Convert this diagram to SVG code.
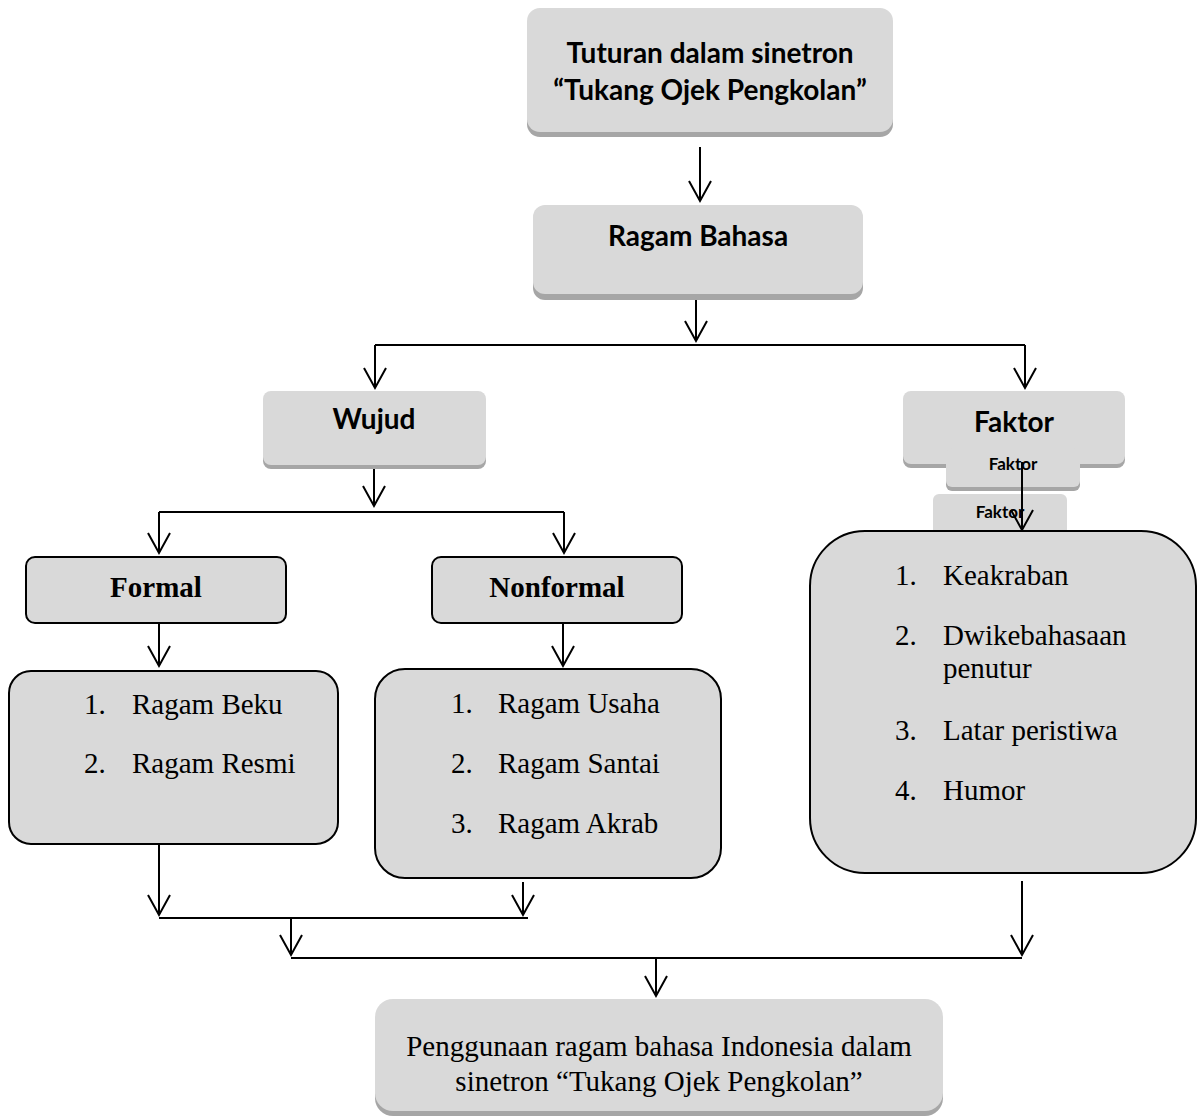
<svg xmlns="http://www.w3.org/2000/svg" width="1197" height="1119" viewBox="0 0 1197 1119">
<defs>
<marker id="arr" markerUnits="userSpaceOnUse" markerWidth="24" markerHeight="24" refX="0" refY="0" orient="auto" overflow="visible">
<path d="M-20,-11 L0,0 L-20,11" fill="none" stroke="#000" stroke-width="2"/>
</marker>
<style>
.sh{fill:#a6a6a6}
.bx{fill:#d9d9d9}
.bd{fill:#d9d9d9;stroke:#000;stroke-width:2}
.cal{font-family:Lato,"Open Sans",sans-serif;font-weight:700;fill:#000;text-anchor:middle}
.tnr{font-family:"Liberation Serif","Times New Roman",serif;fill:#000;font-size:29px}
.tb{font-family:"Liberation Serif","Times New Roman",serif;font-weight:700;fill:#000;font-size:29px;text-anchor:middle}
.ln{fill:none;stroke:#000;stroke-width:2}
.ar{fill:none;stroke:#000;stroke-width:2;marker-end:url(#arr)}
</style>
</defs>
<rect width="1197" height="1119" fill="#fff"/>

<g id="tuturan">
<rect class="sh" x="527" y="13" width="366" height="124" rx="13"/>
<rect class="bx" x="527" y="8" width="366" height="124" rx="13"/>
<text class="cal" x="710" y="63" font-size="28">Tuturan dalam sinetron</text>
<text class="cal" x="710" y="100" font-size="28">“Tukang Ojek Pengkolan”</text>
</g>

<g id="ragam-bahasa">
<rect class="sh" x="533" y="210" width="330" height="90" rx="12"/>
<rect class="bx" x="533" y="205" width="330" height="89" rx="12"/>
<text class="cal" x="698" y="246" font-size="28">Ragam Bahasa</text>
</g>

<g id="wujud">
<rect class="sh" x="263" y="395" width="223" height="74" rx="8"/>
<rect class="bx" x="263" y="391" width="223" height="74" rx="8"/>
<text class="cal" x="374" y="429" font-size="28">Wujud</text>
</g>

<g id="faktor">
<rect class="sh" x="903" y="395" width="222" height="73" rx="8"/>
<rect class="bx" x="903" y="391" width="222" height="73" rx="8"/>
<text class="cal" x="1014" y="432" font-size="28">Faktor</text>
</g>

<g id="faktor-2">
<rect class="sh" x="946" y="452" width="134" height="39" rx="6"/>
<rect class="bx" x="946" y="448" width="134" height="39" rx="6"/>
<text class="cal" x="1013" y="470" font-size="17">Faktor</text>
</g>

<g id="faktor-3">
<rect class="bx" x="933" y="494" width="134" height="60" rx="6"/>
<text class="cal" x="1000" y="518" font-size="17">Faktor</text>
</g>

<g id="formal">
<rect class="bd" x="26" y="557" width="260" height="66" rx="9"/>
<text class="tb" x="156" y="597">Formal</text>
</g>

<g id="nonformal">
<rect class="bd" x="432" y="557" width="250" height="66" rx="9"/>
<text class="tb" x="557" y="597">Nonformal</text>
</g>

<g id="formal-list">
<rect class="bd" x="9" y="671" width="329" height="173" rx="22"/>
<text class="tnr" x="84" y="714">1.</text><text class="tnr" x="132" y="714">Ragam Beku</text>
<text class="tnr" x="84" y="773">2.</text><text class="tnr" x="132" y="773">Ragam Resmi</text>
</g>

<g id="nonformal-list">
<rect class="bd" x="375" y="669" width="346" height="209" rx="30"/>
<text class="tnr" x="451" y="713">1.</text><text class="tnr" x="498" y="713">Ragam Usaha</text>
<text class="tnr" x="451" y="773">2.</text><text class="tnr" x="498" y="773">Ragam Santai</text>
<text class="tnr" x="451" y="833">3.</text><text class="tnr" x="498" y="833">Ragam Akrab</text>
</g>

<g id="faktor-list">
<rect class="bd" x="810" y="531" width="386" height="342" rx="55"/>
<text class="tnr" x="895" y="585">1.</text><text class="tnr" x="943" y="585">Keakraban</text>
<text class="tnr" x="895" y="645">2.</text><text class="tnr" x="943" y="645">Dwikebahasaan</text>
<text class="tnr" x="943" y="678">penutur</text>
<text class="tnr" x="895" y="740">3.</text><text class="tnr" x="943" y="740">Latar peristiwa</text>
<text class="tnr" x="895" y="800">4.</text><text class="tnr" x="943" y="800">Humor</text>
</g>

<g id="penggunaan">
<rect class="sh" x="375" y="1004" width="568" height="112" rx="18"/>
<rect class="bx" x="375" y="999" width="568" height="112" rx="18"/>
<text class="tnr" x="659" y="1056" text-anchor="middle">Penggunaan ragam bahasa Indonesia dalam</text>
<text class="tnr" x="659" y="1091" text-anchor="middle">sinetron “Tukang Ojek Pengkolan”</text>
</g>

<g id="connectors">
<path class="ar" d="M700,147 V201"/>
<path class="ar" d="M696,300 V341"/>
<path class="ln" d="M375,345 H1025"/>
<path class="ar" d="M375,345 V388"/>
<path class="ar" d="M1025,345 V388"/>
<path class="ar" d="M374,469 V506"/>
<path class="ln" d="M159,512 H564"/>
<path class="ar" d="M159,512 V553"/>
<path class="ar" d="M564,512 V553"/>
<path class="ar" d="M159,624 V666"/>
<path class="ar" d="M563,623 V666"/>
<path class="ar" d="M1022,462 V530"/>
<path class="ar" d="M159,845 V915"/>
<path class="ar" d="M523,882 V915"/>
<path class="ln" d="M159,918 H528"/>
<path class="ar" d="M291,918 V955"/>
<path class="ar" d="M1022,881 V955"/>
<path class="ln" d="M291,958 H1022"/>
<path class="ar" d="M656,958 V996"/>
</g>
</svg>
